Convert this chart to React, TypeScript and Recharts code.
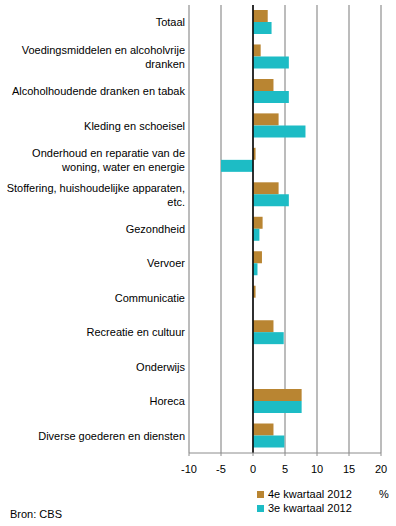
import { BarChart, Bar, XAxis, YAxis, CartesianGrid, ReferenceLine } from 'recharts';

const categories = [
  'Totaal',
  'Voedingsmiddelen en alcoholvrije\ndranken',
  'Alcoholhoudende dranken en tabak',
  'Kleding en schoeisel',
  'Onderhoud en reparatie van de\nwoning, water en energie',
  'Stoffering, huishoudelijke apparaten,\netc.',
  'Gezondheid',
  'Vervoer',
  'Communicatie',
  'Recreatie en cultuur',
  'Onderwijs',
  'Horeca',
  'Diverse goederen en diensten',
];

const q4_2012 = [2.3, 1.2, 3.2, 4.0, 0.4, 4.0, 1.5, 1.4, 0.4, 3.2, 0, 7.6, 3.2];
const q3_2012 = [2.9, 5.6, 5.6, 8.2, -5.0, 5.6, 1.0, 0.7, 0, 4.8, 0, 7.6, 4.9];

const xTicks = [-10, -5, 0, 5, 10, 15, 20];

const data = categories.map((name, i) => ({ name, q4: q4_2012[i], q3: q3_2012[i] }));

const BROWN = '#B98532';
const TEAL = '#1DBCC5';
const FONT = 'Arial, "Liberation Sans", sans-serif';

const CategoryTick = (props: any) => {
  const { y, payload } = props;
  const lines = String(payload.value).split('\n');
  const start = -((lines.length - 1) * 14) / 2;
  return (
    <text x={185} y={y} textAnchor="end" fontSize={11} fontFamily={FONT} fill="#000">
      {lines.map((line, i) => (
        <tspan key={i} x={185} dy={i === 0 ? start + 4 : 14}>
          {line}
        </tspan>
      ))}
    </text>
  );
};

const App = () => {
  return (
    <div style={{ position: 'absolute', left: 0, top: 0, width: 396, height: 526, background: '#fff', fontFamily: FONT }}>
      <BarChart
        width={396}
        height={526}
        data={data}
        layout="vertical"
        margin={{ top: 5, right: 15, left: 0, bottom: 43 }}
        barGap={0}
        barSize={12}
      >
        <CartesianGrid horizontal={false} stroke="#a6a6a6" strokeWidth={1.5} />
        <XAxis
          type="number"
          domain={[-10, 20]}
          ticks={xTicks}
          height={30}
          stroke="#8c8c8c"
          tickSize={3}
          tickMargin={9}
          tick={{ fontSize: 11, fill: '#000', fontFamily: FONT }}
        />
        <XAxis
          xAxisId="top"
          orientation="top"
          type="number"
          domain={[-10, 20]}
          ticks={xTicks}
          height={0}
          tick={false}
          tickSize={5}
          axisLine={{ stroke: '#000', strokeWidth: 1.5 }}
          tickLine={{ stroke: '#000' }}
        />
        <YAxis
          type="category"
          dataKey="name"
          width={189}
          axisLine={false}
          tickLine={false}
          interval={0}
          tick={<CategoryTick />}
        />
        <Bar dataKey="q4" fill={BROWN} isAnimationActive={false} />
        <Bar dataKey="q3" fill={TEAL} isAnimationActive={false} />
        <ReferenceLine x={0} stroke="#000" strokeWidth={1.5} />
      </BarChart>
      <div style={{ position: 'absolute', left: 257, top: 487, fontSize: 11, lineHeight: '14px', color: '#000' }}>
        <div style={{ display: 'flex', alignItems: 'center' }}>
          <span style={{ width: 7, height: 7, background: BROWN, marginRight: 4 }} />
          4e kwartaal 2012
        </div>
        <div style={{ display: 'flex', alignItems: 'center' }}>
          <span style={{ width: 7, height: 7, background: TEAL, marginRight: 4 }} />
          3e kwartaal 2012
        </div>
      </div>
      <div style={{ position: 'absolute', left: 379, top: 487, fontSize: 11, lineHeight: '14px', color: '#000' }}>%</div>
      <div style={{ position: 'absolute', left: 10, top: 507, fontSize: 11, lineHeight: '14px', color: '#000' }}>Bron: CBS</div>
    </div>
  );
};

export default App;
